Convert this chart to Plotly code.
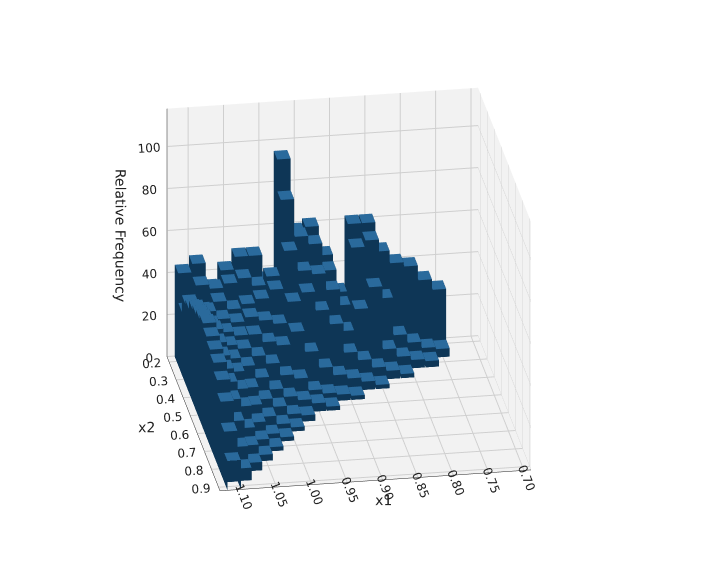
import plotly.graph_objects as go

x1_centers = [1.11, 1.09, 1.07, 1.05, 1.03, 1.01, 0.99, 0.97, 0.95, 0.93, 0.91, 0.89, 0.87, 0.85, 0.83, 0.81, 0.79, 0.77, 0.75]
x2_centers = [0.2, 0.25, 0.3, 0.35, 0.4, 0.45, 0.5, 0.55, 0.6, 0.65, 0.7, 0.75, 0.8, 0.85, 0.9]
heights = [
    [44, 48, 36, 44, 50, 50, 38, 95, 60, 62, 48, 30, 62, 62, 48, 42, 40, 33, 28],
    [30, 42, 40, 42, 44, 40, 44, 80, 62, 58, 45, 28, 55, 58, 30, 12, 8, 5, 4],
    [38, 34, 38, 34, 36, 38, 42, 60, 50, 48, 40, 20, 30, 40, 10, 6, 4, 3, 0],
    [40, 38, 34, 32, 34, 32, 30, 40, 44, 35, 28, 14, 10, 6, 4, 2, 0, 0, 0],
    [44, 36, 32, 30, 30, 26, 24, 30, 20, 12, 8, 6, 4, 2, 0, 0, 0, 0, 0],
    [46, 38, 30, 28, 24, 20, 14, 12, 6, 4, 3, 2, 0, 0, 0, 0, 0, 0, 0],
    [48, 36, 28, 24, 18, 12, 8, 6, 4, 2, 0, 0, 0, 0, 0, 0, 0, 0, 0],
    [50, 34, 26, 18, 12, 8, 4, 3, 0, 0, 0, 0, 0, 0, 0, 0, 0, 0, 0],
    [48, 32, 22, 14, 8, 4, 2, 0, 0, 0, 0, 0, 0, 0, 0, 0, 0, 0, 0],
    [46, 30, 18, 10, 4, 2, 0, 0, 0, 0, 0, 0, 0, 0, 0, 0, 0, 0, 0],
    [44, 26, 12, 6, 2, 0, 0, 0, 0, 0, 0, 0, 0, 0, 0, 0, 0, 0, 0],
    [40, 20, 8, 3, 0, 0, 0, 0, 0, 0, 0, 0, 0, 0, 0, 0, 0, 0, 0],
    [34, 12, 4, 0, 0, 0, 0, 0, 0, 0, 0, 0, 0, 0, 0, 0, 0, 0, 0],
    [24, 6, 0, 0, 0, 0, 0, 0, 0, 0, 0, 0, 0, 0, 0, 0, 0, 0, 0],
    [14, 0, 0, 0, 0, 0, 0, 0, 0, 0, 0, 0, 0, 0, 0, 0, 0, 0, 0],
]

dx, dy = 0.019, 0.048
sx, sy, sz, si, sj, sk = [], [], [], [], [], []
tx, ty, tz, ti, tj, tk = [], [], [], [], [], []
for r, y in enumerate(x2_centers):
    for c, x in enumerate(x1_centers):
        h = heights[r][c]
        if h <= 0:
            continue
        x0, x1_, y0, y1 = x - dx / 2, x + dx / 2, y - dy / 2, y + dy / 2
        b = len(sx)
        for zz in (0, h):
            for (a, bb) in [(x0, y0), (x1_, y0), (x1_, y1), (x0, y1)]:
                sx.append(a); sy.append(bb); sz.append(zz)
        faces = [(0, 1, 5), (0, 5, 4), (1, 2, 6), (1, 6, 5), (2, 3, 7), (2, 7, 6), (3, 0, 4), (3, 4, 7)]
        for f in faces:
            si.append(b + f[0]); sj.append(b + f[1]); sk.append(b + f[2])
        t = len(tx)
        for (a, bb) in [(x0, y0), (x1_, y0), (x1_, y1), (x0, y1)]:
            tx.append(a); ty.append(bb); tz.append(h)
        ti += [t, t]; tj += [t + 1, t + 2]; tk += [t + 2, t + 3]

fig = go.Figure()
fig.add_trace(go.Mesh3d(x=sx, y=sy, z=sz, i=si, j=sj, k=sk, color="#0e3656",
                        flatshading=True, lighting=dict(ambient=1, diffuse=0, specular=0),
                        hoverinfo="skip"))
fig.add_trace(go.Mesh3d(x=tx, y=ty, z=tz, i=ti, j=tj, k=tk, color="#2a6a9c",
                        flatshading=True, lighting=dict(ambient=1, diffuse=0, specular=0),
                        hoverinfo="skip"))

ax = dict(showbackground=True, backgroundcolor="#f2f2f2", gridcolor="#cfcfcf",
          zeroline=False, showspikes=False, tickfont=dict(size=12, color="#222"),
          linecolor="#222", showline=True)
fig.update_layout(
    width=703, height=573, paper_bgcolor="white",
    font=dict(family="DejaVu Sans", size=12, color="#222"),
    margin=dict(l=0, r=0, t=0, b=0), showlegend=False,
    scene=dict(
        domain=dict(x=[0.02, 0.95], y=[0.0, 1.0]),
        xaxis=dict(ax, title="x1", range=[0.69, 1.13], tickvals=[0.70, 0.75, 0.80, 0.85, 0.90, 0.95, 1.00, 1.05, 1.10],
                   ticktext=["0.70", "0.75", "0.80", "0.85", "0.90", "0.95", "1.00", "1.05", "1.10"]),
        yaxis=dict(ax, title="x2", range=[0.17, 0.92], tickvals=[0.2, 0.3, 0.4, 0.5, 0.6, 0.7, 0.8, 0.9],
                   ticktext=["0.2", "0.3", "0.4", "0.5", "0.6", "0.7", "0.8", "0.9"]),
        zaxis=dict(ax, title="Relative Frequency", range=[0, 118], tickvals=[0, 20, 40, 60, 80, 100]),
        aspectmode="manual", aspectratio=dict(x=1.1, y=1.15, z=0.95),
        camera=dict(eye=dict(x=0.22, y=1.35, z=0.6), center=dict(x=0, y=0, z=-0.02),
                    projection=dict(type="orthographic")),
    ),
)
fig.write_html("out.html")
